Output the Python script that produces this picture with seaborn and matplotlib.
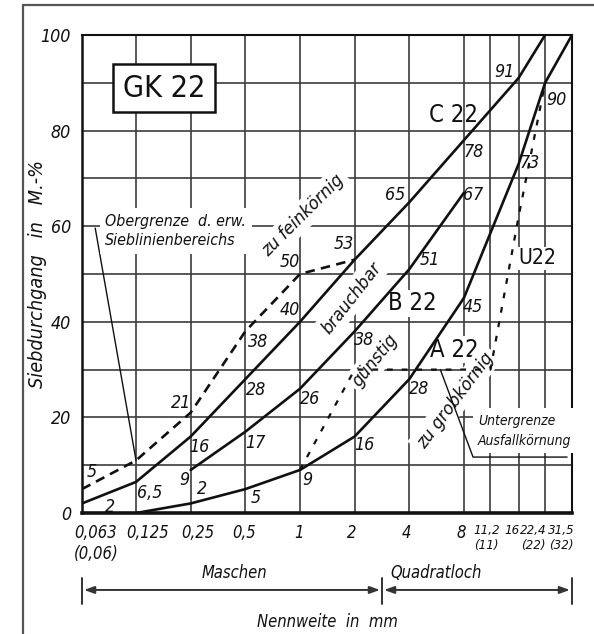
import matplotlib
matplotlib.use("Agg")
import matplotlib.pyplot as plt
import matplotlib.transforms as mtransforms
from matplotlib.lines import Line2D
from matplotlib.ticker import NullLocator, FixedLocator
from matplotlib import font_manager
import pandas as pd
import seaborn as sns

# ---------------- data ----------------
sieve_sizes = [0.063, 0.125, 0.25, 0.5, 1, 2, 4, 8, 11.2, 16, 22.4, 31.5]
sieve_labels = ["0,063\n(0,06)", "0,125", "0,25", "0,5", "1", "2", "4", "8",
                "11,2\n(11)", "16", "22,4\n(22)", "31,5\n(32)"]
y_ticks = [0, 20, 40, 60, 80, 100]

a22_x = [0.125, 0.25, 0.5, 1, 2, 4, 8, 16, 22.4, 31.5]
a22_y = [0, 2, 5, 9, 16, 28, 45, 73, 90, 100]
b22_x = [0.25, 0.5, 1, 2, 4, 8]
b22_y = [9, 17, 26, 38, 51, 67]
c22_x = [0.063, 0.125, 0.25, 0.5, 1, 2, 4, 8, 16, 22.4]
c22_y = [2, 6.5, 16, 28, 40, 53, 65, 78, 91, 100]
upper_x = [0.063, 0.125, 0.25, 0.5, 1, 2]          # Obergrenze d. erw. Sieblinienbereichs
upper_y = [5, 11, 21, 38, 50, 53]
u22_x = [1, 2, 11.2, 16, 22.4]                      # Untergrenze Ausfallkörnung
u22_y = [9, 30, 30, 62, 90]

value_texts = ["5", "2", "6,5", "9", "2", "16", "21", "17", "5", "28", "38", "40",
               "50", "53", "26", "9", "38", "16", "65", "51", "28", "45", "78",
               "67", "91", "90", "73"]

# ---------------- layout (label anchors) ----------------
value_pos = [(0.0715, 8.6), (0.090, 1.3), (0.148, 4.2), (0.23, 6.9), (0.29, 5.0),
             (0.28, 13.8), (0.22, 23), (0.57, 14.6), (0.57, 3.1), (0.57, 25.7),
             (0.59, 35.8), (0.88, 42.5), (0.88, 52.5), (1.74, 56.3), (1.13, 23.8),
             (1.1, 6.9), (2.25, 36.2), (2.25, 14.2), (3.34, 66.5), (5.2, 53),
             (4.5, 26), (9.0, 43), (9.0, 75.5), (9.0, 66.5), (13.4, 92.3),
             (25.8, 86.4), (18.5, 73.2)]
tick_dx = [14, 12, 7, -1, -1, -3, -3, -3, -4, -7, -12, -11]     # pixel shift of x labels
tick_size = [12.5, 12.5, 12.5, 12.5, 12.5, 12.5, 12.5, 12.5, 10, 10, 10, 10]

sns.set_theme(style="white")
# prefer a condensed face when one is installed
cond = [f for f in font_manager.fontManager.ttflist
        if f.name in ("DejaVu Sans", "Liberation Sans Narrow")
        and ("ondensed" in f.fname or "Narrow" in f.fname)]
if any("Narrow" in f.fname for f in cond):
    plt.rcParams["font.family"] = ["Liberation Sans Narrow", "DejaVu Sans"]
    SCALE = 1.0
elif cond:
    plt.rcParams["font.family"] = ["DejaVu Sans"]
    plt.rcParams["font.stretch"] = "condensed"
    SCALE = 0.95
else:
    plt.rcParams["font.family"] = ["Liberation Sans", "DejaVu Sans"]
    SCALE = 0.82
plt.rcParams["font.style"] = "italic"
plt.rcParams["text.color"] = "#111111"

def fs(v):
    return v * SCALE

INK = "#111111"
GRID = "#3c3c3c"

fig = plt.figure(figsize=(5.94, 6.34), dpi=100)
fig.patch.set_facecolor("white")
ax = fig.add_axes([82 / 594, 1 - 513 / 634, 490 / 594, 478 / 634])
ax.set_xscale("log", base=2)
ax.set_xlim(0.063, 31.5)
ax.set_ylim(0, 100)

# grid
ax.xaxis.set_major_locator(FixedLocator(sieve_sizes))
ax.xaxis.set_minor_locator(NullLocator())
ax.set_xticks(sieve_sizes)
ax.set_xticklabels([])
ax.set_yticks(y_ticks)
ax.set_yticklabels([str(v) for v in y_ticks])
ax.yaxis.set_minor_locator(FixedLocator([10, 30, 50, 70, 90]))
ax.set_axisbelow(True)
ax.grid(True, which="major", axis="x", color=GRID, lw=1.2)
ax.grid(True, which="both", axis="y", color=GRID, lw=1.2)
ax.tick_params(axis="x", which="both", length=0)
ax.tick_params(axis="y", which="both", length=0, pad=8, labelsize=fs(13.5), colors=INK)
for side, lw in zip(["left", "bottom", "top", "right"], [1.8, 2.6, 1.5, 1.5]):
    ax.spines[side].set_visible(True)
    ax.spines[side].set_color(INK)
    ax.spines[side].set_linewidth(lw)

trans = mtransforms.blended_transform_factory(ax.transData, ax.transAxes)

# x tick labels (placed under each sieve size)
for xv, lab, dx, s in zip(sieve_sizes, sieve_labels, tick_dx, tick_size):
    tr = mtransforms.offset_copy(trans, fig=fig, x=dx, y=-11, units="dots")
    ax.text(xv, 0, lab, transform=tr, fontsize=fs(s), ha="center", va="top",
            linespacing=1.2, clip_on=False)

# curves
solid_kw = dict(color=INK, linewidth=1.9, zorder=4, legend=False)
sns.lineplot(x=a22_x, y=a22_y, ax=ax, **solid_kw)
sns.lineplot(x=b22_x, y=b22_y, ax=ax, **solid_kw)
sns.lineplot(x=c22_x, y=c22_y, ax=ax, **solid_kw)
sns.lineplot(x=upper_x, y=upper_y, ax=ax, color=INK, linewidth=1.9, zorder=4,
             legend=False, linestyle=(0, (3.6, 2.4)))
sns.lineplot(x=u22_x, y=u22_y, ax=ax, color=INK, linewidth=1.6, zorder=4,
             legend=False, linestyle=(0, (2.6, 4.0)))

white = dict(facecolor="white", edgecolor="none", pad=3)

# value labels
for t, (xv, yv) in zip(value_texts, value_pos):
    ax.text(xv, yv, t, fontsize=fs(13.5), ha="center", va="center", zorder=3)

# curve names
ax.text(0.178, 88.9, "GK 22", fontsize=fs(23), style="normal", ha="center", va="center",
        zorder=5, bbox=dict(boxstyle="square,pad=0.32", facecolor="white",
                            edgecolor=INK, linewidth=1.8))
ax.text(7.0, 83.3, "C 22", fontsize=fs(18), style="normal", ha="center", va="center", zorder=3)
ax.text(4.15, 43.9, "B 22", fontsize=fs(18), style="normal", ha="center", va="center",
        zorder=3, bbox=dict(facecolor="white", edgecolor="none", pad=1))
ax.text(7.05, 34.2, "A 22", fontsize=fs(18), style="normal", ha="center", va="center",
        zorder=3, bbox=dict(facecolor="white", edgecolor="none", pad=1))
ax.text(20.3, 53.3, "U22", fontsize=fs(16), style="normal", ha="center", va="center",
        zorder=3, bbox=dict(facecolor="white", edgecolor="none", pad=1))

# zone labels
zones = [("zu feinkörnig", 1.04, 62.3, 45), ("brauchbar", 1.92, 45.0, 52),
         ("günstig", 2.6, 32.0, 51), ("zu grobkörnig", 7.15, 23.6, 53)]
for t, xv, yv, rot in zones:
    ax.text(xv, yv, t, fontsize=fs(14), rotation=rot, ha="center", va="center",
            rotation_mode="anchor", zorder=3, bbox=white)

# Obergrenze annotation
ax.annotate("", xy=(0.125, 11), xytext=(0.0745, 59.6),
            arrowprops=dict(arrowstyle="-", color=INK, lw=1.0, shrinkA=0, shrinkB=0),
            zorder=3)
ax.text(0.0845, 59.0, "Obergrenze  d. erw.\nSieblinienbereichs", fontsize=fs(12),
        ha="left", va="center", linespacing=1.35, zorder=3,
        bbox=dict(facecolor="white", edgecolor="none", pad=4))

# Untergrenze annotation
ax.plot([5.93, 8.98, 29.6], [30, 11.7, 11.7], color=INK, lw=1.0, zorder=3)
ax.text(9.58, 17.2, "Untergrenze\nAusfallkörnung", fontsize=fs(10.5), ha="left",
        va="center", linespacing=1.5, zorder=2.8,
        bbox=dict(facecolor="white", edgecolor="none", pad=4))

# axis labels
ax.set_ylabel("Siebdurchgang   in   M.-%", fontsize=fs(15), color=INK, va="center")
ax.yaxis.set_label_coords(-0.0898, 0.5)
ax.set_xlabel("Nennweite  in  mm", fontsize=fs(12.5), color=INK, va="center")
ax.xaxis.set_label_coords(0.5, -0.228)

# Maschen / Quadratloch
y_arr = -0.161
for x0, x1 in [(0.063, 2.83), (2.83, 31.5)]:
    ax.annotate("", xy=(x0, y_arr), xytext=(x1, y_arr), xycoords=trans, textcoords=trans,
                arrowprops=dict(arrowstyle="<|-|>,head_length=0.5,head_width=0.18",
                                color="#333333", lw=1.4, shrinkA=1.5, shrinkB=1.5),
                annotation_clip=False)
for xb in [0.063, 2.83, 31.5]:
    ax.plot([xb, xb], [-0.137, -0.19], transform=trans, color="#333333", lw=1.4,
            clip_on=False)
ax.text(0.433, -0.1255, "Maschen", transform=trans, fontsize=fs(12.5), ha="center", va="center")
ax.text(5.63, -0.1255, "Quadratloch", transform=trans, fontsize=fs(12.5), ha="center", va="center")

# outer frame
fig.add_artist(Line2D([23 / 594, 23 / 594], [0, 1 - 5 / 634], transform=fig.transFigure,
                      color="#555555", lw=1.6))
fig.add_artist(Line2D([23 / 594, 1], [1 - 5 / 634, 1 - 5 / 634], transform=fig.transFigure,
                      color="#555555", lw=1.6))

fig.savefig("out.png", dpi=100, facecolor="white")
